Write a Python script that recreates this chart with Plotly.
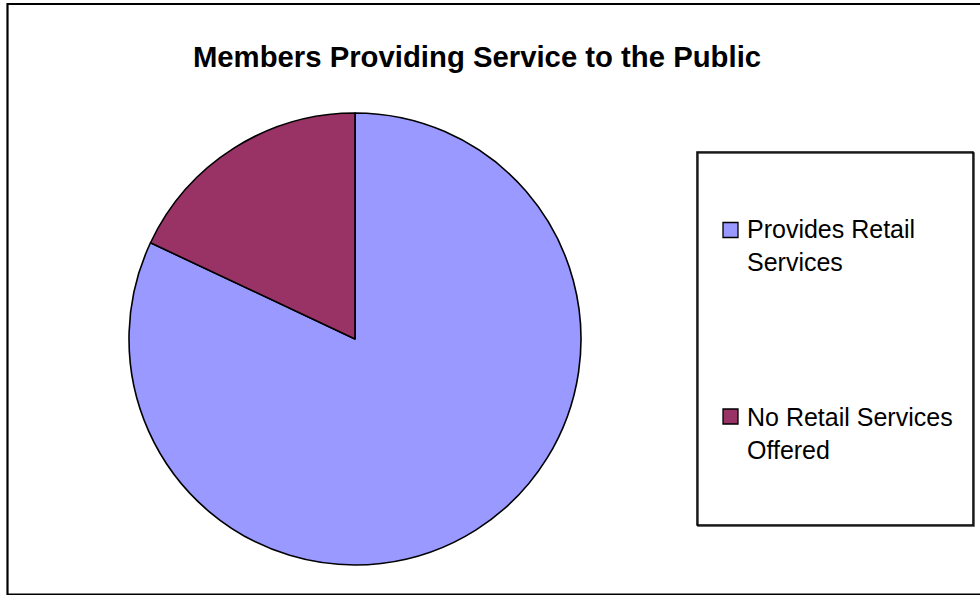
import plotly.graph_objects as go

W, H = 980, 595

title_text = "Members Providing Service to the Public"
categories = ["Provides Retail Services", "No Retail Services Offered"]
legend_lines = [["Provides Retail", "Services"], ["No Retail Services", "Offered"]]
values = [82, 18]
colors = ["#9999FF", "#993366"]

def px(x):
    return x / W

def py(y):
    return 1 - y / H

fig = go.Figure()
fig.add_trace(go.Pie(
    labels=categories,
    values=values,
    sort=False,
    direction="clockwise",
    rotation=0,
    textinfo="none",
    hoverinfo="label+percent",
    marker=dict(colors=colors, line=dict(color="black", width=1.6)),
    domain=dict(x=[px(129), px(581)], y=[py(565), py(113)]),
    showlegend=False,
))

shapes = [
    # outer chart frame
    dict(type="rect", xref="paper", yref="paper", x0=px(7.5), x1=px(990), y0=py(594.5), y1=py(4),
         line=dict(color="black", width=2.2), layer="above"),
    # legend box shadow
    dict(type="rect", xref="paper", yref="paper", x0=px(698), x1=px(974), y0=py(526), y1=py(153),
         line=dict(color="#333333", width=1.5)),
    # legend box
    dict(type="rect", xref="paper", yref="paper", x0=px(697), x1=px(973), y0=py(525), y1=py(152),
         line=dict(color="black", width=1.5)),
]

annotations = []
swatch_centers = [230, 416.5]
text_centers = [246, 433]
for i, lines in enumerate(legend_lines):
    cy = swatch_centers[i]
    shapes.append(dict(type="rect", xref="paper", yref="paper",
                       x0=px(723), x1=px(738), y0=py(cy + 7.5), y1=py(cy - 7.5),
                       fillcolor=colors[i], line=dict(color="black", width=1.3)))
    annotations.append(dict(xref="paper", yref="paper", x=px(745), y=py(text_centers[i]),
                            xanchor="left", yanchor="middle", align="left", showarrow=False,
                            text="<br>".join(lines),
                            font=dict(family="Liberation Sans, Arial", size=25, color="black")))

fig.update_layout(
    width=W, height=H,
    margin=dict(l=0, r=0, t=0, b=0),
    paper_bgcolor="white",
    plot_bgcolor="white",
    title=dict(text="<b>" + title_text + "</b>", x=px(477), y=py(57), xanchor="center", yanchor="middle",
               xref="paper", yref="container",
               font=dict(family="Liberation Sans, Arial", size=29.3, color="black")),
    shapes=shapes,
    annotations=annotations,
    showlegend=False,
)

fig.write_html("out.html")
